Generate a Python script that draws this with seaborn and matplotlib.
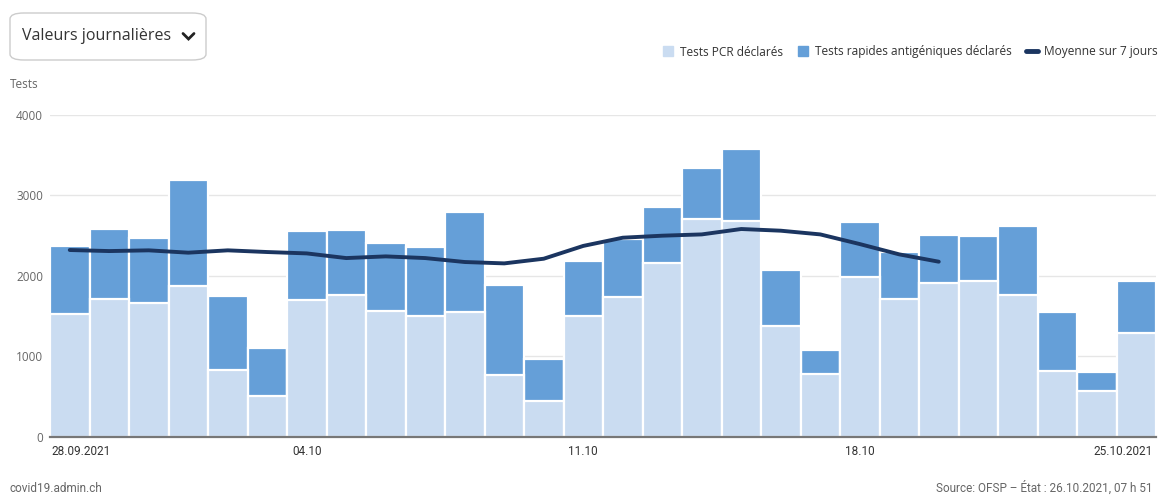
import numpy as np
import pandas as pd
import matplotlib
matplotlib.use("Agg")
import matplotlib.pyplot as plt
import matplotlib.transforms as mtransforms
import seaborn as sns
from matplotlib.lines import Line2D
from matplotlib.patches import FancyBboxPatch

# Daily values, 28.09.2021 - 25.10.2021
days = pd.date_range("2021-09-28", "2021-10-25").strftime("%d.%m").tolist()
pcr = [1520, 1714, 1656, 1867, 828, 501, 1702, 1760, 1565, 1499, 1545, 770, 439, 1499,
       1739, 2161, 2700, 2683, 1379, 783, 1983, 1706, 1905, 1930, 1764, 812, 567, 1292]
rapid = [849, 866, 812, 1317, 915, 596, 849, 803, 837, 857, 1246, 1110, 526, 683,
         721, 688, 637, 890, 687, 298, 684, 584, 600, 567, 857, 741, 236, 642]
avg7 = [2319, 2306, 2315, 2286, 2315, 2294, 2277, 2219, 2240, 2219, 2170, 2153, 2211, 2370,
        2472, 2497, 2513, 2580, 2559, 2513, 2393, 2265, 2174]
tick_labels = ["28.09.2021", "04.10", "11.10", "18.10", "25.10.2021"]
tick_pos = [0, 6, 13, 20, 27]

df = pd.DataFrame({"day": days, "pcr": pcr, "rapid": rapid})
df["total"] = df["pcr"] + df["rapid"]
avg_df = pd.DataFrame({"day": days[:len(avg7)], "avg": avg7})

c_pcr = "#cadcf1"
c_rapid = "#659fd8"
c_line = "#1b3560"
grey = "#666666"

sns.set_style("white")
plt.rcParams["font.family"] = ["Open Sans", "DejaVu Sans"]
narrow = ["Roboto", "DejaVu Sans"]

W, H = 1158, 495
fig = plt.figure(figsize=(W / 100, H / 100), dpi=100)
ax = fig.add_axes([50 / W, (H - 436.7) / H, 1106 / W, 322 / H])

sns.barplot(data=df, x="day", y="total", color=c_rapid, saturation=1, width=1,
            edgecolor="white", linewidth=1.6, ax=ax, zorder=2)
sns.barplot(data=df, x="day", y="pcr", color=c_pcr, saturation=1, width=1,
            edgecolor="white", linewidth=1.6, ax=ax, zorder=3)
sns.lineplot(data=avg_df, x="day", y="avg", color=c_line, linewidth=2.8, ax=ax,
             zorder=4, solid_capstyle="round", solid_joinstyle="round")

ax.set_xlim(-0.5, 27.5)
ax.set_ylim(0, 4000)
ax.set_yticks([0, 1000, 2000, 3000, 4000])
ax.set_xticks(tick_pos)
ax.set_xticklabels(tick_labels, family=narrow, fontsize=8.5, color="#333333")
ax.tick_params(axis="y", length=0, pad=5, labelsize=8.5, labelcolor=grey)
ax.tick_params(axis="x", length=4, width=1, color="#777777", pad=2, direction="out")
ax.yaxis.grid(True, color="#e6e6e6", linewidth=1, zorder=0)
ax.set_axisbelow(True)
ax.set_xlabel("")
ax.set_ylabel("")
for s in ["top", "right", "left"]:
    ax.spines[s].set_visible(False)
ax.spines["bottom"].set_color("#777777")
ax.spines["bottom"].set_linewidth(1.6)
ax.spines["bottom"].set_zorder(5)

# keep the end labels inside the plot width
xlabels = ax.get_xticklabels()
xlabels[0].set_ha("left")
xlabels[0].set_transform(xlabels[0].get_transform() +
                         mtransforms.ScaledTranslation(-0.18, 0, fig.dpi_scale_trans))
xlabels[-1].set_ha("right")
xlabels[-1].set_transform(xlabels[-1].get_transform() +
                          mtransforms.ScaledTranslation(0.165, 0, fig.dpi_scale_trans))

# legend
handles = [
    Line2D([], [], marker="s", linestyle="none", markersize=6.5, color=c_pcr),
    Line2D([], [], marker="s", linestyle="none", markersize=6.5, color=c_rapid),
    Line2D([], [], color=c_line, linewidth=3.5),
]
labels = ["Tests PCR déclarés", "Tests rapides antigéniques déclarés", "Moyenne sur 7 jours"]
fig.legend(handles, labels, loc="center right", bbox_to_anchor=(1158 / W, 1 - 52 / H),
           ncol=3, frameon=False, fontsize=8.6, labelcolor="#333333", handlelength=1.0,
           handletextpad=0.5, columnspacing=1.2, borderaxespad=0, borderpad=0)

# dropdown box
box = FancyBboxPatch((10 / W, (H - 60) / H), 196 / W, 47 / H,
                     boxstyle="round,pad=0,rounding_size=0.012", transform=fig.transFigure,
                     facecolor="white", edgecolor="#cccccc", linewidth=1)
fig.patches.append(box)
fig.text(22 / W, 1 - 36 / H, "Valeurs journalières", fontsize=11.5, color="#333333",
         va="center", ha="left")
fig.add_artist(Line2D([183 / W, 188.5 / W, 194 / W], [1 - 33.5 / H, 1 - 39 / H, 1 - 33.5 / H],
                      transform=fig.transFigure, color="#222222", linewidth=2.0,
                      solid_capstyle="round", solid_joinstyle="miter"))

fig.text(10 / W, 1 - 85 / H, "Tests", fontsize=8.5, color=grey, va="center", ha="left")
fig.text(10 / W, 1 - 488 / H, "covid19.admin.ch", fontsize=8.5, color=grey,
         va="center", ha="left", family=narrow)
fig.text(1153 / W, 1 - 488 / H, "Source: OFSP – État : 26.10.2021, 07 h 51", fontsize=8.5,
         color=grey, va="center", ha="right", family=narrow)

fig.savefig("out.png", dpi=100)
